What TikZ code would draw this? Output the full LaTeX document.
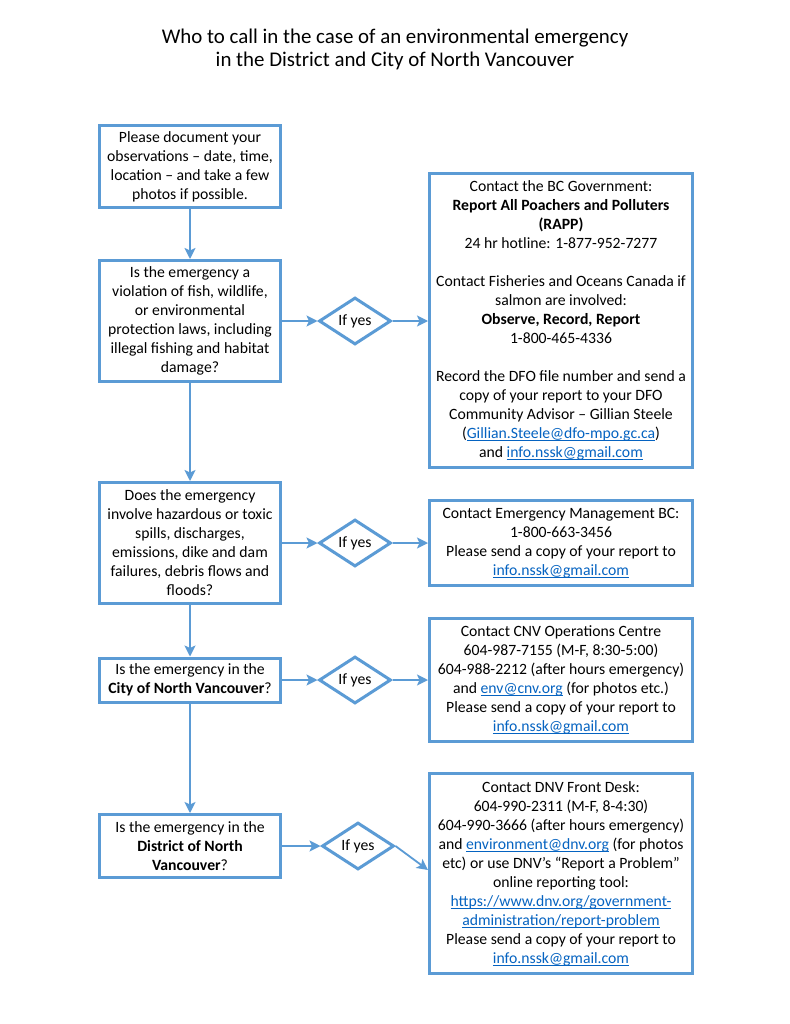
\documentclass[tikz,border=0pt]{standalone}
\usepackage{fontspec}
\setmainfont{Carlito}
\usetikzlibrary{shapes.geometric,arrows.meta}
\definecolor{boxblue}{RGB}{91,155,213}
\definecolor{linkblue}{RGB}{5,99,193}
\newcommand{\lnk}[1]{{\color{linkblue}\setbox0\hbox{#1}\rlap{\rule[-2.2pt]{\wd0}{0.8pt}}\box0}}
\begin{document}
\begin{tikzpicture}[x=1pt,y=-1pt,
  every node/.style={font=\fontsize{15.7}{19}\selectfont, align=center, inner sep=0pt, text=black},
  qbox/.style={draw=boxblue, line width=3pt, minimum width=181pt},
  abox/.style={draw=boxblue, line width=3pt, minimum width=263pt},
  ydia/.style={draw=boxblue, line width=3pt, diamond, minimum width=72pt, minimum height=47pt},
  conn/.style={draw=boxblue, line width=1.8pt, -{Stealth[length=11pt,width=11pt,inset=2.5pt]}},
  titletext/.style={font=\fontsize{20.9}{23}\selectfont}
]
\useasboundingbox (0,0) rectangle (789,1024);
\fill[white] (0,0) rectangle (789,1024);

\node[titletext] (title) at (395,49) {Who to call in the case of an environmental emergency\\in the District and City of North Vancouver};

% left question boxes
\node[qbox, minimum height=82pt] (b1) at (190,166.5) {Please document your\\observations – date, time,\\location – and take a few\\photos if possible.};
\node[qbox, minimum height=121pt] (b2) at (190,321) {Is the emergency a\\violation of fish, wildlife,\\or environmental\\protection laws, including\\illegal fishing and habitat\\damage?};
\node[qbox, minimum height=121pt] (b3) at (190,543) {Does the emergency\\involve hazardous or toxic\\spills, discharges,\\emissions, dike and dam\\failures, debris flows and\\floods?};
\node[qbox, minimum height=44pt] (b4) at (190,680) {Is the emergency in the\\\textbf{City of North Vancouver}?};
\node[qbox, minimum height=63pt] (b5) at (190,846) {Is the emergency in the\\\textbf{District of North}\\\textbf{Vancouver}?};

% diamonds
\node[ydia] (d1) at (355,321) {If yes};
\node[ydia] (d2) at (355,543) {If yes};
\node[ydia] (d3) at (355,680) {If yes};
\node[ydia] (d4) at (358,846) {If yes};

% answer boxes
\node[abox, minimum height=294pt] (r1) at (561,320.5) {Contact the BC Government:\\\textbf{Report All Poachers and Polluters}\\\textbf{(RAPP)}\\24 hr hotline: 1-877-952-7277\\[19pt]Contact Fisheries and Oceans Canada if\\salmon are involved:\\\textbf{Observe, Record, Report}\\1-800-465-4336\\[19pt]Record the DFO file number and send a\\copy of your report to your DFO\\Community Advisor – Gillian Steele\\(\lnk{Gillian.Steele@dfo-mpo.gc.ca})\\and \lnk{info.nssk@gmail.com}};
\node[abox, minimum height=85pt] (r2) at (561,543) {Contact Emergency Management BC:\\1-800-663-3456\\Please send a copy of your report to\\\lnk{info.nssk@gmail.com}};
\node[abox, minimum height=123pt] (r3) at (561,680) {Contact CNV Operations Centre\\604-987-7155 (M-F, 8:30-5:00)\\604-988-2212 (after hours emergency)\\and \lnk{env@cnv.org} (for photos etc.)\\Please send a copy of your report to\\\lnk{info.nssk@gmail.com}};
\node[abox, minimum height=200pt] (r4) at (561,873.5) {Contact DNV Front Desk:\\604-990-2311 (M-F, 8-4:30)\\604-990-3666 (after hours emergency)\\and \lnk{environment@dnv.org} (for photos\\etc) or use DNV’s “Report a Problem”\\online reporting tool:\\\lnk{https://www.dnv.org/government-}\\\lnk{administration/report-problem}\\Please send a copy of your report to\\\lnk{info.nssk@gmail.com}};

% connectors
\draw[conn] (b1.south) -- (b2.north);
\draw[conn] (b2.south) -- (b3.north);
\draw[conn] (b3.south) -- (b4.north);
\draw[conn] (b4.south) -- (b5.north);
\draw[conn] (b2.east) -- (d1.west);
\draw[conn] (d1.east) -- (r1.west |- d1.east);
\draw[conn] (b3.east) -- (d2.west);
\draw[conn] (d2.east) -- (r2.west);
\draw[conn] (b4.east) -- (d3.west);
\draw[conn] (d3.east) -- (r3.west);
\draw[conn] (b5.east) -- (d4.west);
\draw[conn] (d4.east) -- ([yshift=3.5pt]r4.west);
\end{tikzpicture}
\end{document}
